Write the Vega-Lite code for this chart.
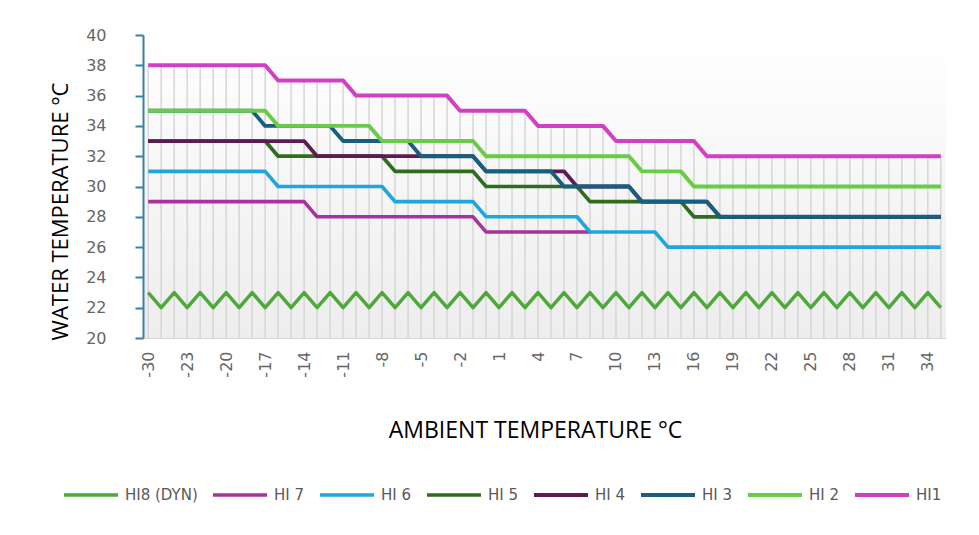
{
  "$schema": "https://vega.github.io/schema/vega-lite/v6.json",
  "autosize": {"type": "none"},
  "width": 803,
  "height": 303,
  "padding": {"left": 143, "top": 35, "right": 33, "bottom": 197},
  "background": "#ffffff",
  "config": {
    "font": "Open Sans",
    "view": {"stroke": null, "fill": {"gradient": "linear", "x1": 0, "y1": 0, "x2": 0, "y2": 1, "stops": [{"offset": 0, "color": "#ffffff"}, {"offset": 1, "color": "#ededed"}]}},
    "axis": {"grid": false, "labelFont": "DejaVu Sans", "labelFontSize": 16, "labelColor": "#666666", "titleFont": "Open Sans", "titleFontWeight": "normal", "titleColor": "#000000"}
  },
  "data": {"values": [
    {"ambient": -30, "HI1": 38, "HI 2": 35, "HI 3": 35, "HI 4": 33, "HI 5": 33, "HI 6": 31, "HI 7": 29, "HI8 (DYN)": 23},
    {"ambient": -25, "HI1": 38, "HI 2": 35, "HI 3": 35, "HI 4": 33, "HI 5": 33, "HI 6": 31, "HI 7": 29, "HI8 (DYN)": 22},
    {"ambient": -24, "HI1": 38, "HI 2": 35, "HI 3": 35, "HI 4": 33, "HI 5": 33, "HI 6": 31, "HI 7": 29, "HI8 (DYN)": 23},
    {"ambient": -23, "HI1": 38, "HI 2": 35, "HI 3": 35, "HI 4": 33, "HI 5": 33, "HI 6": 31, "HI 7": 29, "HI8 (DYN)": 22},
    {"ambient": -22, "HI1": 38, "HI 2": 35, "HI 3": 35, "HI 4": 33, "HI 5": 33, "HI 6": 31, "HI 7": 29, "HI8 (DYN)": 23},
    {"ambient": -21, "HI1": 38, "HI 2": 35, "HI 3": 35, "HI 4": 33, "HI 5": 33, "HI 6": 31, "HI 7": 29, "HI8 (DYN)": 22},
    {"ambient": -20, "HI1": 38, "HI 2": 35, "HI 3": 35, "HI 4": 33, "HI 5": 33, "HI 6": 31, "HI 7": 29, "HI8 (DYN)": 23},
    {"ambient": -19, "HI1": 38, "HI 2": 35, "HI 3": 35, "HI 4": 33, "HI 5": 33, "HI 6": 31, "HI 7": 29, "HI8 (DYN)": 22},
    {"ambient": -18, "HI1": 38, "HI 2": 35, "HI 3": 35, "HI 4": 33, "HI 5": 33, "HI 6": 31, "HI 7": 29, "HI8 (DYN)": 23},
    {"ambient": -17, "HI1": 38, "HI 2": 35, "HI 3": 34, "HI 4": 33, "HI 5": 33, "HI 6": 31, "HI 7": 29, "HI8 (DYN)": 22},
    {"ambient": -16, "HI1": 37, "HI 2": 34, "HI 3": 34, "HI 4": 33, "HI 5": 32, "HI 6": 30, "HI 7": 29, "HI8 (DYN)": 23},
    {"ambient": -15, "HI1": 37, "HI 2": 34, "HI 3": 34, "HI 4": 33, "HI 5": 32, "HI 6": 30, "HI 7": 29, "HI8 (DYN)": 22},
    {"ambient": -14, "HI1": 37, "HI 2": 34, "HI 3": 34, "HI 4": 33, "HI 5": 32, "HI 6": 30, "HI 7": 29, "HI8 (DYN)": 23},
    {"ambient": -13, "HI1": 37, "HI 2": 34, "HI 3": 34, "HI 4": 32, "HI 5": 32, "HI 6": 30, "HI 7": 28, "HI8 (DYN)": 22},
    {"ambient": -12, "HI1": 37, "HI 2": 34, "HI 3": 34, "HI 4": 32, "HI 5": 32, "HI 6": 30, "HI 7": 28, "HI8 (DYN)": 23},
    {"ambient": -11, "HI1": 37, "HI 2": 34, "HI 3": 33, "HI 4": 32, "HI 5": 32, "HI 6": 30, "HI 7": 28, "HI8 (DYN)": 22},
    {"ambient": -10, "HI1": 36, "HI 2": 34, "HI 3": 33, "HI 4": 32, "HI 5": 32, "HI 6": 30, "HI 7": 28, "HI8 (DYN)": 23},
    {"ambient": -9, "HI1": 36, "HI 2": 34, "HI 3": 33, "HI 4": 32, "HI 5": 32, "HI 6": 30, "HI 7": 28, "HI8 (DYN)": 22},
    {"ambient": -8, "HI1": 36, "HI 2": 33, "HI 3": 33, "HI 4": 32, "HI 5": 32, "HI 6": 30, "HI 7": 28, "HI8 (DYN)": 23},
    {"ambient": -7, "HI1": 36, "HI 2": 33, "HI 3": 33, "HI 4": 32, "HI 5": 31, "HI 6": 29, "HI 7": 28, "HI8 (DYN)": 22},
    {"ambient": -6, "HI1": 36, "HI 2": 33, "HI 3": 33, "HI 4": 32, "HI 5": 31, "HI 6": 29, "HI 7": 28, "HI8 (DYN)": 23},
    {"ambient": -5, "HI1": 36, "HI 2": 33, "HI 3": 32, "HI 4": 32, "HI 5": 31, "HI 6": 29, "HI 7": 28, "HI8 (DYN)": 22},
    {"ambient": -4, "HI1": 36, "HI 2": 33, "HI 3": 32, "HI 4": 32, "HI 5": 31, "HI 6": 29, "HI 7": 28, "HI8 (DYN)": 23},
    {"ambient": -3, "HI1": 36, "HI 2": 33, "HI 3": 32, "HI 4": 32, "HI 5": 31, "HI 6": 29, "HI 7": 28, "HI8 (DYN)": 22},
    {"ambient": -2, "HI1": 35, "HI 2": 33, "HI 3": 32, "HI 4": 32, "HI 5": 31, "HI 6": 29, "HI 7": 28, "HI8 (DYN)": 23},
    {"ambient": -1, "HI1": 35, "HI 2": 33, "HI 3": 32, "HI 4": 32, "HI 5": 31, "HI 6": 29, "HI 7": 28, "HI8 (DYN)": 22},
    {"ambient": 0, "HI1": 35, "HI 2": 32, "HI 3": 31, "HI 4": 31, "HI 5": 30, "HI 6": 28, "HI 7": 27, "HI8 (DYN)": 23},
    {"ambient": 1, "HI1": 35, "HI 2": 32, "HI 3": 31, "HI 4": 31, "HI 5": 30, "HI 6": 28, "HI 7": 27, "HI8 (DYN)": 22},
    {"ambient": 2, "HI1": 35, "HI 2": 32, "HI 3": 31, "HI 4": 31, "HI 5": 30, "HI 6": 28, "HI 7": 27, "HI8 (DYN)": 23},
    {"ambient": 3, "HI1": 35, "HI 2": 32, "HI 3": 31, "HI 4": 31, "HI 5": 30, "HI 6": 28, "HI 7": 27, "HI8 (DYN)": 22},
    {"ambient": 4, "HI1": 34, "HI 2": 32, "HI 3": 31, "HI 4": 31, "HI 5": 30, "HI 6": 28, "HI 7": 27, "HI8 (DYN)": 23},
    {"ambient": 5, "HI1": 34, "HI 2": 32, "HI 3": 31, "HI 4": 31, "HI 5": 30, "HI 6": 28, "HI 7": 27, "HI8 (DYN)": 22},
    {"ambient": 6, "HI1": 34, "HI 2": 32, "HI 3": 30, "HI 4": 31, "HI 5": 30, "HI 6": 28, "HI 7": 27, "HI8 (DYN)": 23},
    {"ambient": 7, "HI1": 34, "HI 2": 32, "HI 3": 30, "HI 4": 30, "HI 5": 30, "HI 6": 28, "HI 7": 27, "HI8 (DYN)": 22},
    {"ambient": 8, "HI1": 34, "HI 2": 32, "HI 3": 30, "HI 4": 30, "HI 5": 29, "HI 6": 27, "HI 7": 27, "HI8 (DYN)": 23},
    {"ambient": 9, "HI1": 34, "HI 2": 32, "HI 3": 30, "HI 4": 30, "HI 5": 29, "HI 6": 27, "HI8 (DYN)": 22},
    {"ambient": 10, "HI1": 33, "HI 2": 32, "HI 3": 30, "HI 4": 30, "HI 5": 29, "HI 6": 27, "HI8 (DYN)": 23},
    {"ambient": 11, "HI1": 33, "HI 2": 32, "HI 3": 30, "HI 4": 30, "HI 5": 29, "HI 6": 27, "HI8 (DYN)": 22},
    {"ambient": 12, "HI1": 33, "HI 2": 31, "HI 3": 29, "HI 4": 29, "HI 5": 29, "HI 6": 27, "HI8 (DYN)": 23},
    {"ambient": 13, "HI1": 33, "HI 2": 31, "HI 3": 29, "HI 4": 29, "HI 5": 29, "HI 6": 27, "HI8 (DYN)": 22},
    {"ambient": 14, "HI1": 33, "HI 2": 31, "HI 3": 29, "HI 4": 29, "HI 5": 29, "HI 6": 26, "HI8 (DYN)": 23},
    {"ambient": 15, "HI1": 33, "HI 2": 31, "HI 3": 29, "HI 4": 29, "HI 5": 29, "HI 6": 26, "HI8 (DYN)": 22},
    {"ambient": 16, "HI1": 33, "HI 2": 30, "HI 3": 29, "HI 4": 29, "HI 5": 28, "HI 6": 26, "HI8 (DYN)": 23},
    {"ambient": 17, "HI1": 32, "HI 2": 30, "HI 3": 29, "HI 4": 29, "HI 5": 28, "HI 6": 26, "HI8 (DYN)": 22},
    {"ambient": 18, "HI1": 32, "HI 2": 30, "HI 3": 28, "HI 4": 28, "HI 5": 28, "HI 6": 26, "HI8 (DYN)": 23},
    {"ambient": 19, "HI1": 32, "HI 2": 30, "HI 3": 28, "HI 4": 28, "HI 5": 28, "HI 6": 26, "HI8 (DYN)": 22},
    {"ambient": 20, "HI1": 32, "HI 2": 30, "HI 3": 28, "HI 4": 28, "HI 5": 28, "HI 6": 26, "HI8 (DYN)": 23},
    {"ambient": 21, "HI1": 32, "HI 2": 30, "HI 3": 28, "HI 4": 28, "HI 5": 28, "HI 6": 26, "HI8 (DYN)": 22},
    {"ambient": 22, "HI1": 32, "HI 2": 30, "HI 3": 28, "HI 4": 28, "HI 5": 28, "HI 6": 26, "HI8 (DYN)": 23},
    {"ambient": 23, "HI1": 32, "HI 2": 30, "HI 3": 28, "HI 4": 28, "HI 5": 28, "HI 6": 26, "HI8 (DYN)": 22},
    {"ambient": 24, "HI1": 32, "HI 2": 30, "HI 3": 28, "HI 4": 28, "HI 5": 28, "HI 6": 26, "HI8 (DYN)": 23},
    {"ambient": 25, "HI1": 32, "HI 2": 30, "HI 3": 28, "HI 4": 28, "HI 5": 28, "HI 6": 26, "HI8 (DYN)": 22},
    {"ambient": 26, "HI1": 32, "HI 2": 30, "HI 3": 28, "HI 4": 28, "HI 5": 28, "HI 6": 26, "HI8 (DYN)": 23},
    {"ambient": 27, "HI1": 32, "HI 2": 30, "HI 3": 28, "HI 4": 28, "HI 5": 28, "HI 6": 26, "HI8 (DYN)": 22},
    {"ambient": 28, "HI1": 32, "HI 2": 30, "HI 3": 28, "HI 4": 28, "HI 5": 28, "HI 6": 26, "HI8 (DYN)": 23},
    {"ambient": 29, "HI1": 32, "HI 2": 30, "HI 3": 28, "HI 4": 28, "HI 5": 28, "HI 6": 26, "HI8 (DYN)": 22},
    {"ambient": 30, "HI1": 32, "HI 2": 30, "HI 3": 28, "HI 4": 28, "HI 5": 28, "HI 6": 26, "HI8 (DYN)": 23},
    {"ambient": 31, "HI1": 32, "HI 2": 30, "HI 3": 28, "HI 4": 28, "HI 5": 28, "HI 6": 26, "HI8 (DYN)": 22},
    {"ambient": 32, "HI1": 32, "HI 2": 30, "HI 3": 28, "HI 4": 28, "HI 5": 28, "HI 6": 26, "HI8 (DYN)": 23},
    {"ambient": 33, "HI1": 32, "HI 2": 30, "HI 3": 28, "HI 4": 28, "HI 5": 28, "HI 6": 26, "HI8 (DYN)": 22},
    {"ambient": 34, "HI1": 32, "HI 2": 30, "HI 3": 28, "HI 4": 28, "HI 5": 28, "HI 6": 26, "HI8 (DYN)": 23},
    {"ambient": 35, "HI1": 32, "HI 2": 30, "HI 3": 28, "HI 4": 28, "HI 5": 28, "HI 6": 26, "HI8 (DYN)": 22}
  ]},
  "encoding": {
    "x": {
      "field": "ambient", "type": "ordinal",
      "scale": {"type": "point", "padding": 0.4},
      "axis": {
        "values": [-30, -23, -20, -17, -14, -11, -8, -5, -2, 1, 4, 7, 10, 13, 16, 19, 22, 25, 28, 31, 34],
        "title": "AMBIENT TEMPERATURE °C",
        "labelAngle": -90, "labelPadding": 13, "ticks": false,
        "domainColor": "#d9d9d9", "domainWidth": 1,
        "titleFontSize": 23,
        "titleX": 392, "titleY": 92, "titleBaseline": "middle", "titleAlign": "center"
      }
    }
  },
  "layer": [
    {
      "mark": {"type": "rule", "color": "#d6d6d6", "strokeWidth": 1.5},
      "encoding": {
        "y": {
          "field": "HI1", "type": "quantitative",
          "scale": {"domain": [20, 40], "nice": false, "zero": false},
          "axis": {
            "values": [20, 22, 24, 26, 28, 30, 32, 34, 36, 38, 40],
            "title": "WATER TEMPERATURE °C",
            "domainColor": "#3b7ea8", "domainWidth": 2,
            "tickColor": "#3b7ea8", "tickWidth": 2, "tickSize": 8,
            "labelPadding": 29, "titleFontSize": 22,
            "titleX": -83, "titleY": 176, "titleAngle": -90, "titleAlign": "center", "titleBaseline": "middle"
          }
        },
        "y2": {"datum": 20}
      }
    },
    {
      "transform": [
        {"fold": ["HI8 (DYN)", "HI 7", "HI 6", "HI 5", "HI 4", "HI 3", "HI 2", "HI1"], "as": ["series", "temp"]}
      ],
      "mark": {"type": "line", "strokeJoin": "round", "strokeCap": "butt"},
      "encoding": {
        "y": {
          "field": "temp", "type": "quantitative",
          "scale": {"domain": [20, 40], "nice": false, "zero": false},
          "axis": {
            "values": [20, 22, 24, 26, 28, 30, 32, 34, 36, 38, 40],
            "title": "WATER TEMPERATURE °C",
            "domainColor": "#3b7ea8", "domainWidth": 2,
            "tickColor": "#3b7ea8", "tickWidth": 2, "tickSize": 8,
            "labelPadding": 29, "titleFontSize": 22,
            "titleX": -83, "titleY": 176, "titleAngle": -90, "titleAlign": "center", "titleBaseline": "middle"
          }
        },
        "color": {
          "field": "series", "type": "nominal",
          "scale": {
            "domain": ["HI8 (DYN)", "HI 7", "HI 6", "HI 5", "HI 4", "HI 3", "HI 2", "HI1"],
            "range": ["#4ea83a", "#a8339c", "#1fa6de", "#2f6c20", "#5c1b54", "#175f7e", "#68cc46", "#d140c4"]
          },
          "legend": {
            "orient": "none", "legendX": -81, "legendY": 431,
            "direction": "horizontal", "title": null,
            "symbolType": "stroke", "symbolSize": 2916, "symbolStrokeWidth": 4,
            "labelFont": "DejaVu Sans", "labelFontSize": 15, "labelColor": "#595959",
            "labelOffset": 5, "columnPadding": 7, "padding": 0
          }
        },
        "strokeWidth": {
          "field": "series", "type": "nominal",
          "scale": {
            "domain": ["HI8 (DYN)", "HI 7", "HI 6", "HI 5", "HI 4", "HI 3", "HI 2", "HI1"],
            "range": [3.5, 4, 4, 3.5, 3.5, 3.5, 2.5, 4]
          },
          "legend": null
        }
      }
    }
  ]
}
